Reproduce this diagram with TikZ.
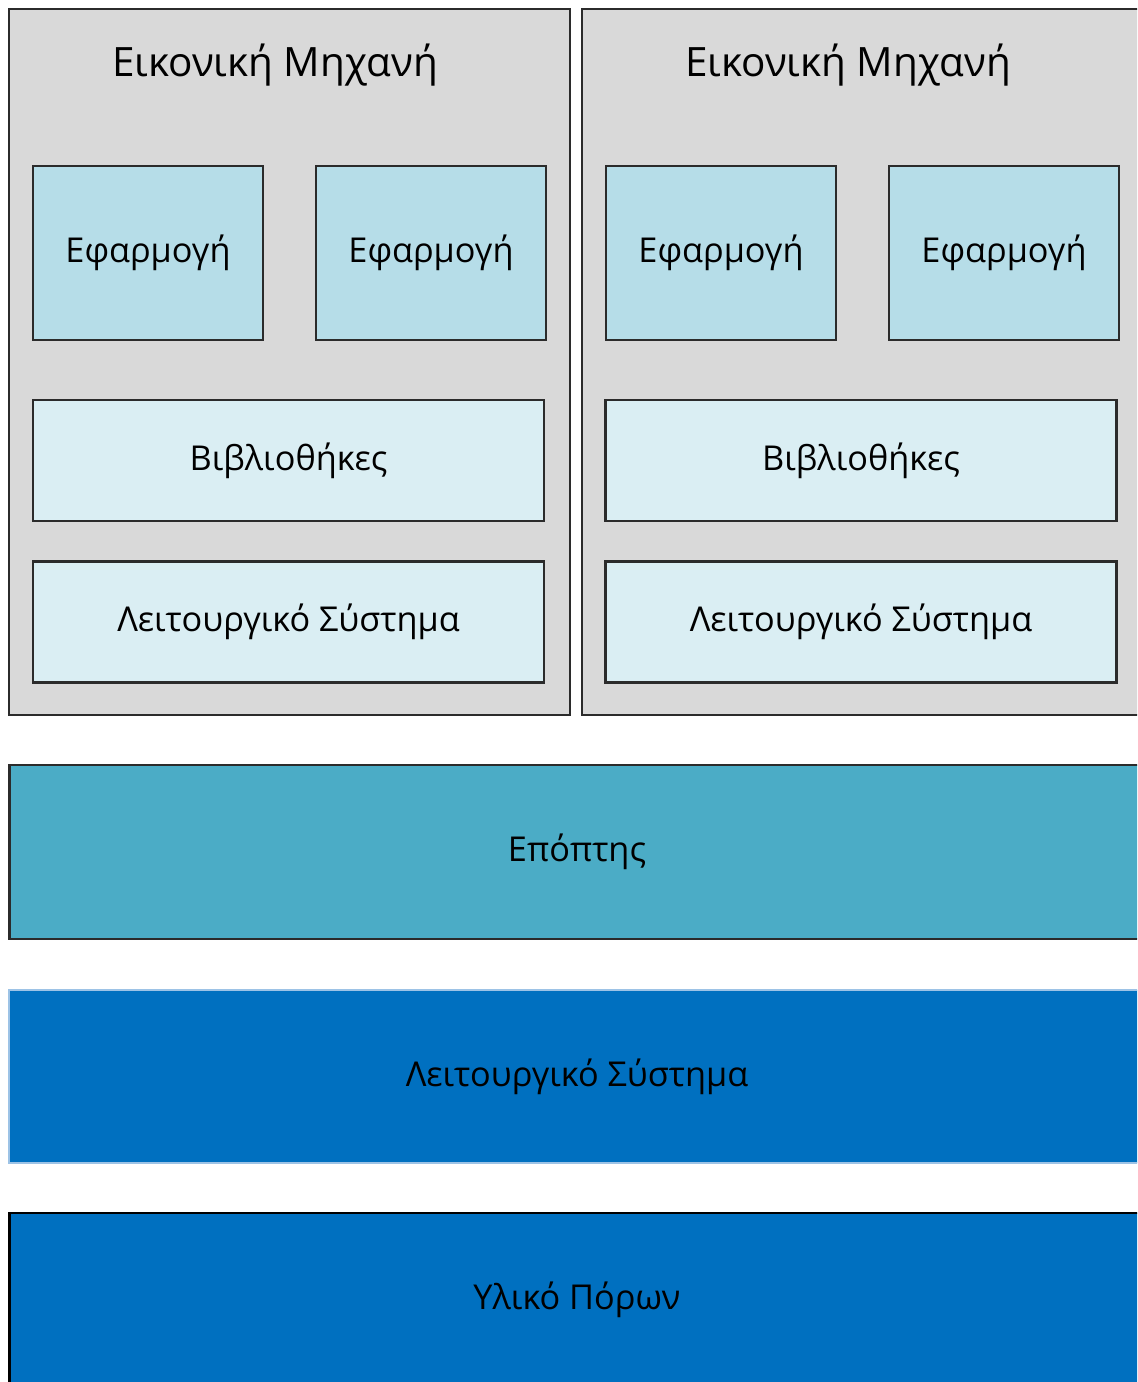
\documentclass[tikz,border=0pt]{standalone}
\usepackage{fontspec}
\setmainfont{Open Sans}
\usepackage{tikz}
\usepackage{xcolor}
\usetikzlibrary{positioning}
\definecolor{vmgray}{HTML}{D9D9D9}
\definecolor{appblue}{HTML}{B6DDE8}
\definecolor{libblue}{HTML}{DAEEF3}
\definecolor{hypblue}{HTML}{4BACC6}
\definecolor{hostblue}{HTML}{0070C0}
\definecolor{hostedge}{HTML}{9DC3E6}
\definecolor{edgegray}{HTML}{2B2B2B}
\tikzset{
  vm/.style    ={rectangle, draw=edgegray, line width=1.6pt, fill=vmgray, inner sep=0pt},
  vmtitle/.style={font=\fontsize{23}{27}\selectfont, inner sep=0pt},
  app/.style   ={rectangle, draw=edgegray, line width=1.6pt, fill=appblue,
                 minimum width=4.6cm, minimum height=3.48cm, font=\fontsize{19.5}{23}\selectfont},
  lib/.style   ={rectangle, draw=edgegray, line width=1.6pt, fill=libblue,
                 minimum width=10.22cm, minimum height=2.42cm, font=\fontsize{19.5}{23}\selectfont},
  layer/.style ={rectangle, line width=1.6pt, minimum width=22.72cm,
                 font=\fontsize{19.5}{23}\selectfont},
}

\begin{document}
\begin{tikzpicture}[x=0.02cm, y=-0.02cm]
\clip (0,0) rectangle (1137,1382);
\fill[white] (0,0) rectangle (1137,1382);

% virtual machines
\node[vm, minimum width=11.22cm, minimum height=14.12cm] (vma) at (289.5,362) {};
\node[vm, minimum width=11.26cm, minimum height=14.12cm] (vmb) at (863.5,362) {};
\node[vmtitle] (ta) at (275,65) {Εικονική Μηχανή};
\node[vmtitle] (tb) at (848,65) {Εικονική Μηχανή};

\node[app] (appa1) at (148,253)  {Εφαρμογή};
\node[app] (appa2) at (431,253)  {Εφαρμογή};
\node[app] (appb1) at (721,253)  {Εφαρμογή};
\node[app] (appb2) at (1004,253) {Εφαρμογή};

\node[lib] (liba) at (288.5,460.5) {Βιβλιοθήκες};
\node[lib] (libb) at (861,460.5)   {Βιβλιοθήκες};
\node[lib] (osa) at (288.5,622)    {Λειτουργικό Σύστημα};
\node[lib] (osb) at (861,622)      {Λειτουργικό Σύστημα};

% host layers
\node[layer, draw=edgegray, fill=hypblue, minimum height=3.48cm] (hyp) at (577,852) {Επόπτης};
\node[layer, draw=hostedge, line width=0.8pt, fill=hostblue, minimum height=3.46cm] (host) at (577,1076.5) {Λειτουργικό Σύστημα};
\node[layer, draw=black, fill=hostblue, minimum height=3.48cm] (hw) at (577,1300) {Υλικό Πόρων};

\end{tikzpicture}
\end{document}
